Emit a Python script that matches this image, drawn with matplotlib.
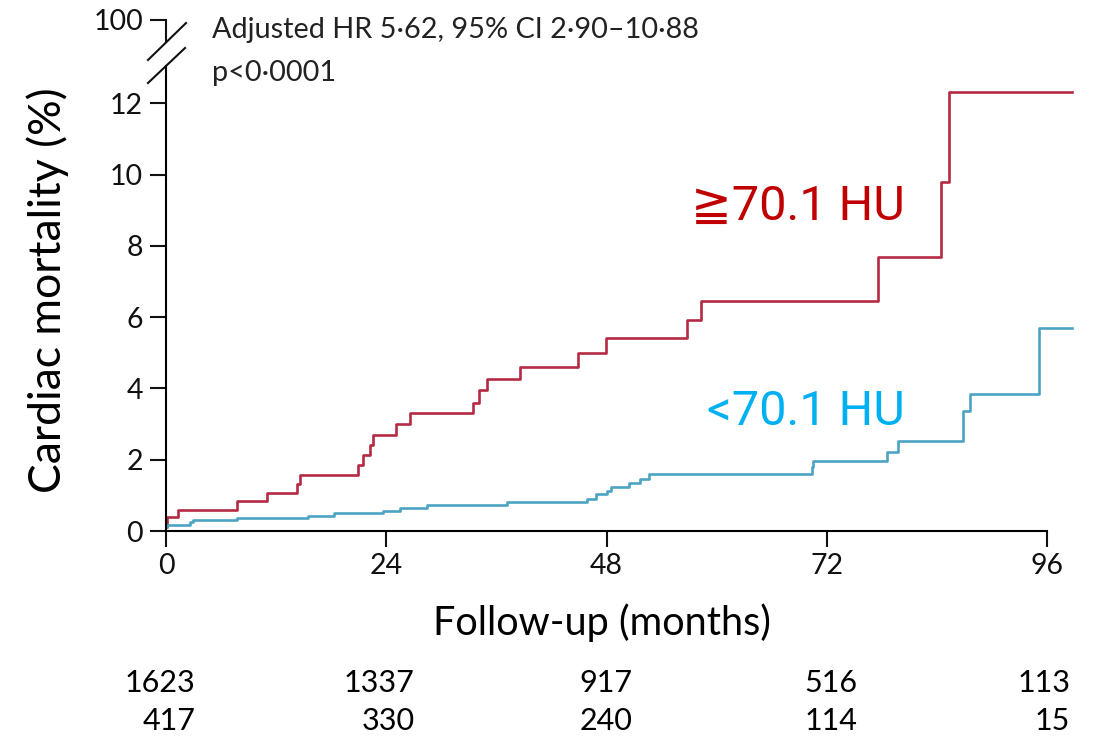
import matplotlib
matplotlib.use("Agg")
import matplotlib.pyplot as plt
import numpy as np

plt.rcParams['font.family'] = ['Lato', 'DejaVu Sans']

# follow-up times (months) where each curve steps, and cumulative mortality (%)
high_t = [0, 0.1, 1.3, 7.7, 11.0, 14.3, 14.6, 20.9, 21.5, 22.2, 22.5, 25.1, 26.6,
          33.4, 34.1, 35.0, 38.6, 44.9, 47.9, 56.8, 58.3, 77.6, 84.4, 85.3]
high_y = [0.1, 0.39, 0.6, 0.83, 1.07, 1.32, 1.57, 1.85, 2.13, 2.42, 2.70, 3.0, 3.31,
          3.6, 3.95, 4.27, 4.61, 5.0, 5.42, 5.93, 6.46, 7.7, 9.78, 12.31]
low_t = [0, 0.1, 2.6, 2.9, 7.7, 15.5, 18.3, 23.6, 25.5, 28.4, 37.1, 45.9, 46.8,
         48.0, 48.5, 50.4, 51.6, 52.6, 70.4, 70.5, 78.6, 79.7, 86.8, 87.6, 95.1]
low_y = [0.1, 0.16, 0.25, 0.3, 0.37, 0.43, 0.5, 0.57, 0.64, 0.73, 0.81, 0.9, 1.03,
         1.12, 1.23, 1.34, 1.45, 1.59, 1.8, 1.97, 2.22, 2.53, 3.37, 3.85, 5.7]
t_end = 98.7

xticks = [0, 24, 48, 72, 96]
yticks = [0, 2, 4, 6, 8, 10, 12]
risk_high = ["1623", "1337", "917", "516", "113"]
risk_low = ["417", "330", "240", "114", "15"]

red_line = "#B42A44"
blue_line = "#4DA3C4"

fig = plt.figure(figsize=(11.01, 7.49), dpi=100)
ax = fig.add_axes([166/1101, 1 - 531/749, 906/1101, 511/749])

ytop = 511/35.64  # data value at the "100" tick (broken axis)
ax.set_xlim(0, t_end)
ax.set_ylim(0, ytop)

ax.step(np.append(high_t, t_end), np.append(high_y, high_y[-1]), where='post',
        color=red_line, lw=1.9, clip_on=False)
ax.step(np.append(low_t, t_end), np.append(low_y, low_y[-1]), where='post',
        color=blue_line, lw=1.9, clip_on=False)

for s in ['top', 'right']:
    ax.spines[s].set_visible(False)
ax.spines['left'].set_linewidth(1.5)
ax.spines['bottom'].set_linewidth(1.5)
ax.spines['bottom'].set_bounds(0, 96)
ax.spines['left'].set_bounds(0, 0.91*ytop)

ax.set_xticks(xticks)
ax.set_yticks(yticks + [ytop])
ax.set_yticklabels([str(v) for v in yticks] + ["100"])
ax.tick_params(length=11.5, width=1.5, labelsize=20.5, colors='#111111')
ax.tick_params(axis='y', pad=5)
ax.tick_params(axis='x', pad=4)

# axis break marks
kw = dict(transform=ax.transAxes, color='#111111', lw=1.5, clip_on=False)
ax.plot([0, 0], [0.956, 1.0], **kw)
ax.plot([-0.0199, 0.021], [0.8767, 0.9452], **kw)
ax.plot([-0.0199, 0.0221], [0.9217, 0.9941], **kw)

# annotations
fig.text(212/1101, 1 - 38/749, "Adjusted HR 5·62, 95% CI 2·90–10·88",
         fontsize=20.8, va='baseline', color='#222222')
fig.text(212/1101, 1 - 81/749, "p<0·0001", fontsize=20.8, va='baseline', color='#222222')

fig.text(905/1101, 1 - 220/749, "≧70.1 HU", fontsize=35, ha='right', va='baseline',
         color='#C00000', family=['Roboto', 'DejaVu Sans'])
fig.text(905/1101, 1 - 425/749, "<70.1 HU", fontsize=35, ha='right', va='baseline',
         color='#00B0F0', family=['Roboto', 'DejaVu Sans'])

fig.text(48/1101, 1 - 290/749, "Cardiac mortality (%)", fontsize=32, rotation=90,
         ha='center', va='center')
fig.text(602/1101, 1 - 635/749, "Follow-up (months)", fontsize=28.5, ha='center',
         va='baseline')

# numbers at risk
risk_x = [3.2, 27.1, 50.8, 75.3, 98.5]
for x, a, b in zip(risk_x, risk_high, risk_low):
    ax.text(x, -4.26, a, ha='right', va='center', fontsize=22, clip_on=False)
    ax.text(x, -5.33, b, ha='right', va='center', fontsize=22, clip_on=False)

fig.savefig("out.png", dpi=100)
